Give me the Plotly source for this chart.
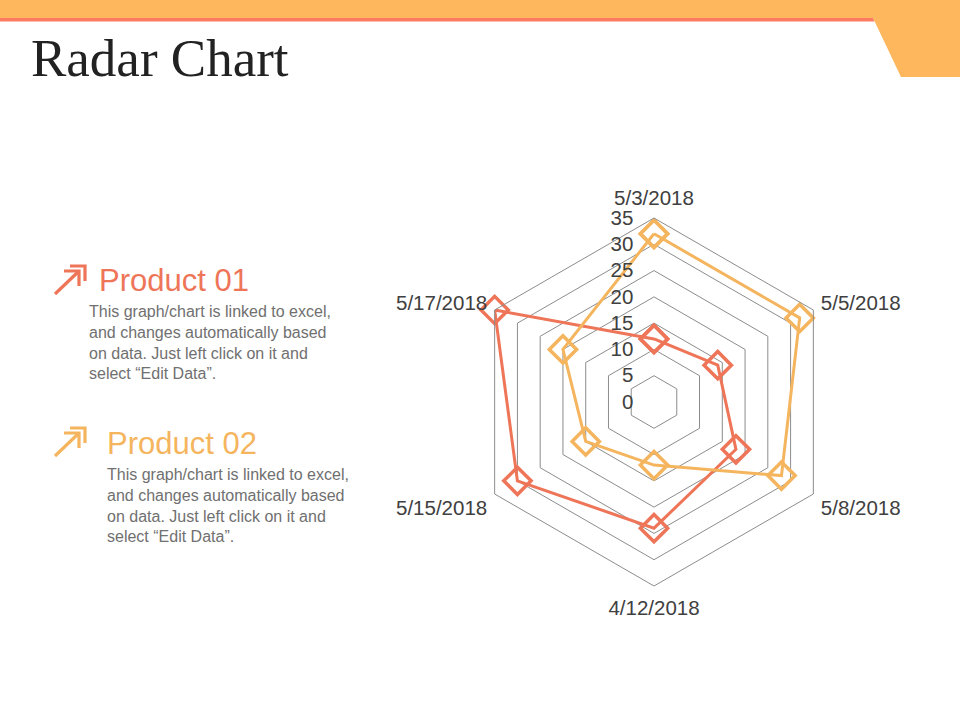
import plotly.graph_objects as go

W, H = 960, 720

dates = ["5/3/2018", "5/5/2018", "5/8/2018", "4/12/2018", "5/15/2018", "5/17/2018"]
product_01 = [12, 14, 18, 24, 30, 35]
product_02 = [32, 32, 28, 12, 15, 20]
radial_ticks = [0, 5, 10, 15, 20, 25, 30, 35]

C1 = "#EE7558"
C2 = "#F4B55E"
BANNER = "#FFB75E"
RED_LINE = "#FF7A62"
TEXT_GRAY = "#707070"
BLURB = ("This graph/chart is linked to excel,<br>and changes automatically based<br>"
         "on data. Just left click on it and<br>select \u201cEdit Data\u201d.")


def px(x, y):
    return x / W, 1 - y / H


def path(points):
    s = ""
    for i, (x, y) in enumerate(points):
        X, Y = px(x, y)
        s += ("M" if i == 0 else "L") + f"{X:.5f},{Y:.5f} "
    return s


fig = go.Figure()
for name, vals, col in [("Product 01", product_01, C1), ("Product 02", product_02, C2)]:
    fig.add_trace(go.Scatterpolar(
        r=vals + vals[:1], theta=dates + dates[:1], name=name,
        mode="lines+markers",
        line=dict(color=col, width=3),
        marker=dict(symbol="diamond-open", size=21, color=col, line=dict(width=3.5)),
    ))

shapes = []
# top banner
shapes.append(dict(type="path", path=path([(0, 0), (960, 0), (960, 77), (901, 77), (873, 18), (0, 18)]) + "Z",
                   xref="paper", yref="paper", fillcolor=BANNER, line=dict(width=0)))
shapes.append(dict(type="path", path=path([(0, 18), (873, 18), (874.5, 21.5), (0, 21.5)]) + "Z",
                   xref="paper", yref="paper", fillcolor=RED_LINE, line=dict(width=0)))

# arrow icons
for dy, col in [(0, C1), (162, C2)]:
    for pts in [[(55, 294 + dy), (78, 272 + dy)],
                [(64, 271 + dy), (79, 271 + dy), (79, 286 + dy)],
                [(70, 266 + dy), (85, 266 + dy), (85, 281 + dy)]]:
        shapes.append(dict(type="path", path=path(pts), xref="paper", yref="paper",
                           line=dict(color=col, width=3.2)))

annotations = [
    dict(text="Radar Chart", x=px(29, 0)[0], y=px(0, 58)[1], xanchor="left", yanchor="middle",
         font=dict(family="Liberation Serif", size=53, color="#222222")),
    dict(text="Product 01", x=px(97, 0)[0], y=px(0, 281)[1], xanchor="left", yanchor="middle",
         font=dict(family="Liberation Sans", size=31, color=C1)),
    dict(text=BLURB, x=px(87, 0)[0], y=px(0, 342)[1], xanchor="left", yanchor="middle", align="left",
         font=dict(family="Liberation Sans", size=16, color=TEXT_GRAY)),
    dict(text="Product 02", x=px(105, 0)[0], y=px(0, 443)[1], xanchor="left", yanchor="middle",
         font=dict(family="Liberation Sans", size=31, color=C2)),
    dict(text=BLURB, x=px(105, 0)[0], y=px(0, 506)[1], xanchor="left", yanchor="middle", align="left",
         font=dict(family="Liberation Sans", size=16, color=TEXT_GRAY)),
]
for a in annotations:
    a.update(xref="paper", yref="paper", showarrow=False)

cx, cy, R = 654, 402, 184
fig.update_layout(
    width=W, height=H,
    margin=dict(l=0, r=0, t=0, b=0),
    paper_bgcolor="white",
    showlegend=False,
    font=dict(family="Liberation Sans"),
    shapes=shapes,
    annotations=annotations,
    polar=dict(
        domain=dict(x=[(cx - R) / W, (cx + R) / W], y=[1 - (cy + R) / H, 1 - (cy - R) / H]),
        bgcolor="white",
        gridshape="linear",
        angularaxis=dict(direction="clockwise", rotation=90, showgrid=False,
                         linecolor="#8C8C8C", linewidth=1,
                         ticks="outside", ticklen=4, tickcolor="rgba(0,0,0,0)",
                         tickfont=dict(size=20.5, color="#404040")),
        radialaxis=dict(range=[0, 35], tickvals=radial_ticks, angle=90, tickangle=90,
                        side="counterclockwise", showline=False,
                        ticks="outside", ticklen=13, tickcolor="rgba(0,0,0,0)",
                        gridcolor="#8C8C8C", gridwidth=1,
                        tickfont=dict(size=20.5, color="#404040")),
    ),
)

fig.write_html("out.html", config={"displayModeBar": False},
               post_script="document.body.style.margin='0';")
